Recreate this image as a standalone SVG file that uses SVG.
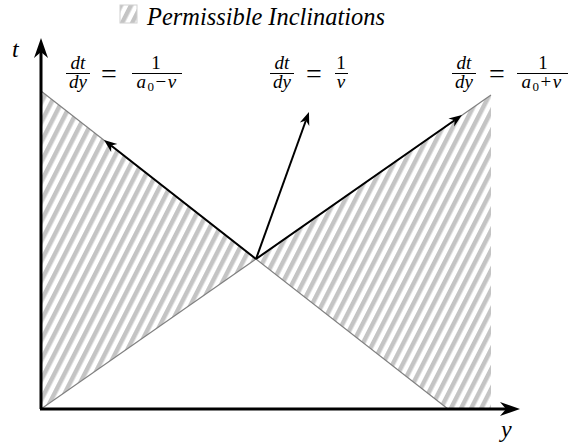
<svg xmlns="http://www.w3.org/2000/svg" width="568" height="445" viewBox="0 0 568 445">
<style>
.m{font-family:"Liberation Serif","DejaVu Serif",serif;font-style:italic;fill:#000}
.r{font-family:"Liberation Serif","DejaVu Serif",serif;font-style:normal;fill:#000}
.bar{stroke:#000;stroke-width:1}
.gl{stroke:#808080;stroke-width:1.2;fill:none}
.ax{stroke:#000;stroke-width:3;fill:none}
.ar{stroke:#000;stroke-width:2;fill:none}
</style>
<defs>
<pattern id="hatch" patternUnits="userSpaceOnUse" width="9" height="20" patternTransform="rotate(27)">
<rect x="0" y="0" width="4.5" height="20" fill="#c4c4c4"/>
</pattern>
<marker id="big" markerUnits="userSpaceOnUse" markerWidth="24" markerHeight="20" viewBox="-8 -10 24 20" refX="0" refY="0" orient="auto">
<path d="M0,0 L-6,-7 L14,0 L-6,7 Z" fill="#000"/>
</marker>
<marker id="sm" markerUnits="userSpaceOnUse" markerWidth="16" markerHeight="14" viewBox="-5 -7 16 14" refX="0" refY="0" orient="auto">
<path d="M0,0 L-4,-5 L9,0 L-4,5 Z" fill="#000"/>
</marker>
</defs>

<g id="legend">
<rect x="120" y="5" width="17" height="18" fill="url(#hatch)" stroke="#d0d0d0" stroke-width="1"/>
<text class="m" x="147" y="25" font-size="25" textLength="238" lengthAdjust="spacingAndGlyphs">Permissible Inclinations</text>
</g>

<g id="regions">
<polygon id="left-region" points="41,91 256,259 41,409" fill="url(#hatch)"/>
<polygon id="right-region" points="256,259 491,95 491,409 448,409" fill="url(#hatch)"/>
</g>

<g id="connectors">
<line class="gl" x1="41" y1="91" x2="448" y2="409"/>
<line class="gl" x1="41" y1="409" x2="491" y2="95"/>
<line class="ax" x1="41" y1="409" x2="41" y2="52" marker-end="url(#big)"/>
<line class="ax" x1="40" y1="409" x2="506" y2="409" marker-end="url(#big)"/>
<line class="ar" x1="256" y1="259" x2="111.1" y2="145.5" marker-end="url(#sm)"/>
<line class="ar" x1="256" y1="259" x2="454.6" y2="120.2" marker-end="url(#sm)"/>
<line class="ar" x1="256" y1="259" x2="305.9" y2="120.5" marker-end="url(#sm)"/>
</g>

<g id="axis-labels">
<text class="m" x="12" y="57" font-size="24">t</text>
<text class="m" x="501" y="437" font-size="24">y</text>
</g>

<g id="label-left">
<text class="m" x="78" y="69" font-size="19" text-anchor="middle">dt</text>
<line class="bar" x1="66" y1="73.5" x2="90" y2="73.5"/>
<text class="m" x="78" y="88" font-size="19" text-anchor="middle">dy</text>
<text class="r" x="109" y="83" font-size="28" text-anchor="middle">=</text>
<text class="r" x="156" y="69" font-size="19" text-anchor="middle">1</text>
<line class="bar" x1="132" y1="73.5" x2="182" y2="73.5"/>
<text x="157" y="88" font-size="19" text-anchor="middle" letter-spacing="1.5"><tspan class="m">a</tspan><tspan class="r" font-size="13" dy="3">0</tspan><tspan class="r" dy="-3">−</tspan><tspan class="m">v</tspan></text>
</g>

<g id="label-mid">
<text class="m" x="282" y="69" font-size="19" text-anchor="middle">dt</text>
<line class="bar" x1="270" y1="73.5" x2="294" y2="73.5"/>
<text class="m" x="282" y="88" font-size="19" text-anchor="middle">dy</text>
<text class="r" x="314" y="83" font-size="28" text-anchor="middle">=</text>
<text class="r" x="341" y="69" font-size="19" text-anchor="middle">1</text>
<line class="bar" x1="335" y1="73.5" x2="348" y2="73.5"/>
<text class="m" x="341" y="88" font-size="19" text-anchor="middle">v</text>
</g>

<g id="label-right">
<text class="m" x="464" y="69" font-size="19" text-anchor="middle">dt</text>
<line class="bar" x1="452" y1="73.5" x2="476" y2="73.5"/>
<text class="m" x="464" y="88" font-size="19" text-anchor="middle">dy</text>
<text class="r" x="497" y="83" font-size="28" text-anchor="middle">=</text>
<text class="r" x="543" y="69" font-size="19" text-anchor="middle">1</text>
<line class="bar" x1="517" y1="73.5" x2="568" y2="73.5"/>
<text x="542" y="88" font-size="19" text-anchor="middle" letter-spacing="1.5"><tspan class="m">a</tspan><tspan class="r" font-size="13" dy="3">0</tspan><tspan class="r" dy="-3">+</tspan><tspan class="m">v</tspan></text>
</g>
</svg>
